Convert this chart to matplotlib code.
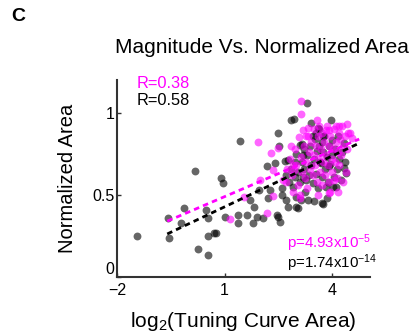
import matplotlib.pyplot as plt

plt.rcParams['font.family'] = ['Liberation Sans', 'DejaVu Sans']
plt.rcParams['mathtext.default'] = 'regular'

# black (gray looking) points: log2 tuning curve area vs normalized area
gray_x = [-1.44, -0.57, -0.54, -0.21, -0.13, 0.18, 0.26, 0.49, 0.53, 0.53,
          0.53, 0.71, 0.76, 0.89, 0.95, 1.00, 1.37, 1.37, 1.42, 1.62,
          1.70, 1.80, 1.82, 1.90, 1.95, 2.08, 2.17, 2.20, 2.26, 2.40,
          2.45, 2.48, 2.54, 2.59, 2.52, 2.50, 2.67, 2.77, 2.86, 2.99,
          3.04, 2.77, 2.97, 2.99, 3.09, 3.18, 3.18, 3.27, 3.31, 3.30,
          3.40, 3.45, 3.54, 3.63, 3.68, 3.71, 3.74, 3.82, 3.91, 3.96,
          4.00, 4.05, 4.09, 4.23, 4.32, 4.37, 4.32,
          2.70, 2.80, 2.85, 2.90, 2.95, 3.00, 3.05, 3.10, 3.15, 3.20,
          3.22, 3.25, 3.30, 3.35, 3.38, 3.42, 3.45, 3.50, 3.52, 3.55,
          3.58, 3.60, 3.62, 3.66, 3.70, 3.72, 3.75, 3.78, 3.80, 3.85,
          3.88, 3.92, 3.95, 4.00, 4.02, 4.08, 4.12, 4.15, 4.20, 4.28,
          4.35, 2.92, 3.17, 3.59, 3.75, 2.60, 2.72, 3.12, 3.50, 3.85]
gray_y = [0.249, 0.359, 0.237, 0.327, 0.420, 0.643, 0.173, 0.408, 0.357, 0.251,
          0.133, 0.271, 0.271, 0.602, 0.571, 0.367, 0.376, 0.331, 0.829, 0.376,
          0.469, 0.331, 0.429, 0.367, 0.531, 0.357, 0.673, 0.480, 0.531, 0.694,
          0.378, 0.367, 0.337, 0.541, 0.796, 0.878, 0.704, 0.429, 0.959, 0.429,
          0.418, 0.714, 0.612, 0.490, 0.806, 0.745, 0.612, 0.592, 0.469, 1.061,
          0.939, 0.857, 0.878, 0.796, 0.694, 0.449, 0.445, 0.551, 0.673, 0.959,
          0.837, 0.612, 0.551, 0.592, 0.663, 0.633, 0.816,
          0.62, 0.58, 0.66, 0.55, 0.70, 0.75, 0.64, 0.58, 0.70, 0.66,
          0.78, 0.52, 0.74, 0.62, 0.80, 0.68, 0.57, 0.72, 0.84, 0.63,
          0.77, 0.54, 0.90, 0.70, 0.82, 0.61, 0.76, 0.86, 0.66, 0.73,
          0.58, 0.80, 0.69, 0.74, 0.55, 0.78, 0.66, 0.86, 0.72, 0.76,
          0.70, 0.96, 0.81, 0.91, 0.86, 0.50, 0.47, 0.47, 0.46, 0.48]

# magenta points
mag_x = [1.16, 1.53, 1.92, 1.99, 2.17, 2.35, 2.30, 2.35, 2.50, 2.62,
         2.86, 2.90, 2.94, 3.09, 3.13, 3.13, 3.18, 3.27, 3.31, 3.58,
         3.63, 3.82, 3.91, 4.09, 4.18, 4.41, 4.50, 4.55, 3.91, 4.05,
         2.70, 2.75, 2.82, 2.88, 2.95, 3.00, 3.05, 3.08, 3.12, 3.15,
         3.20, 3.24, 3.28, 3.32, 3.35, 3.38, 3.42, 3.45, 3.48, 3.50,
         3.52, 3.55, 3.58, 3.60, 3.62, 3.65, 3.68, 3.70, 3.72, 3.75,
         3.78, 3.80, 3.82, 3.85, 3.88, 3.90, 3.92, 3.95, 3.98, 4.00,
         4.02, 4.05, 4.08, 4.10, 4.12, 4.15, 4.18, 4.20, 4.22, 4.25,
         4.28, 4.30, 4.35, 4.40, 4.45, 4.38, 4.30, 3.95, 3.60, 3.30,
         3.10, 2.90, 4.15]
mag_y = [0.351, 0.486, 0.822, 0.588, 0.388, 0.496, 0.755, 0.653, 0.786, 0.592,
         0.796, 0.684, 0.653, 0.480, 0.990, 1.071, 0.898, 0.857, 0.908, 0.959,
         0.918, 0.898, 0.898, 0.918, 0.918, 0.929, 0.878, 0.847, 0.510, 0.592,
         0.58, 0.66, 0.72, 0.62, 0.78, 0.68, 0.56, 0.85, 0.73, 0.64,
         0.80, 0.60, 0.70, 0.86, 0.76, 0.66, 0.82, 0.62, 0.74, 0.90,
         0.68, 0.80, 0.58, 0.86, 0.72, 0.64, 0.78, 0.88, 0.56, 0.70,
         0.82, 0.62, 0.74, 0.92, 0.68, 0.80, 0.58, 0.86, 0.72, 0.64,
         0.78, 0.90, 0.70, 0.82, 0.60, 0.76, 0.88, 0.68, 0.84, 0.74,
         0.92, 0.80, 0.86, 0.78, 0.88, 0.64, 0.58, 0.52, 0.50, 0.54,
         0.50, 0.52, 0.52]

# regression line end points
fit_x = [-0.6, 4.75]
gray_fit = [0.262, 0.815]
mag_fit = [0.340, 0.840]

fig = plt.figure(figsize=(4.14, 3.36), dpi=100)
ax = fig.add_axes([0.2826, 0.1756, 0.611, 0.5864])

ax.scatter(gray_x, gray_y, s=32, color='black', alpha=0.6, linewidths=0, zorder=2)
ax.scatter(mag_x, mag_y, s=32, color='#ff00ff', alpha=0.6, linewidths=0, zorder=3)
ax.plot(fit_x, mag_fit, '--', color='#ff00ff', lw=2, dashes=(2.0, 1.5), zorder=4)
ax.plot(fit_x, gray_fit, '--', color='black', lw=2, dashes=(2.0, 1.5), zorder=5)

ax.set_xlim(-2, 5.05)
ax.set_ylim(0, 1.2)
ax.set_xticks([-2, 1, 4])
ax.set_yticks([0, 0.5, 1])
ax.set_yticklabels(['0', '0.5', '1'])
for s in ['top', 'right']:
    ax.spines[s].set_visible(False)
for s in ['left', 'bottom']:
    ax.spines[s].set_linewidth(1.5)
    ax.spines[s].set_color('#333333')
ax.tick_params(direction='in', length=3, width=1, labelsize=11.5, colors='#333333',
               labelcolor='black')
ax.tick_params(axis='x', pad=4)
ax.tick_params(axis='y', pad=2)
# the zero label sits a little above the x axis
ax.get_yticklabels()[0].set_verticalalignment('bottom')

ax.set_xlabel('log$_2$(Tuning Curve Area)', fontsize=15, labelpad=9)
ax.set_ylabel('Normalized Area', fontsize=14.5, labelpad=11)
fig.text(0.633, 0.86, 'Magnitude Vs. Normalized Area', fontsize=15,
         ha='center', va='center')
fig.text(0.028, 0.95, 'C', fontsize=14, fontweight='bold', va='center')

ax.text(0.079, 0.98, 'R=0.38', transform=ax.transAxes, color='#ff00ff',
        fontsize=11.8, va='center')
ax.text(0.079, 0.898, 'R=0.58', transform=ax.transAxes, color='black',
        fontsize=11.8, va='center')
ax.text(0.672, 0.173, 'p=4.93x10$^{-5}$', transform=ax.transAxes, color='#ff00ff',
        fontsize=10.8, va='center')
ax.text(0.672, 0.071, 'p=1.74x10$^{-14}$', transform=ax.transAxes, color='black',
        fontsize=10.8, va='center')

fig.savefig('out.png', dpi=100)
